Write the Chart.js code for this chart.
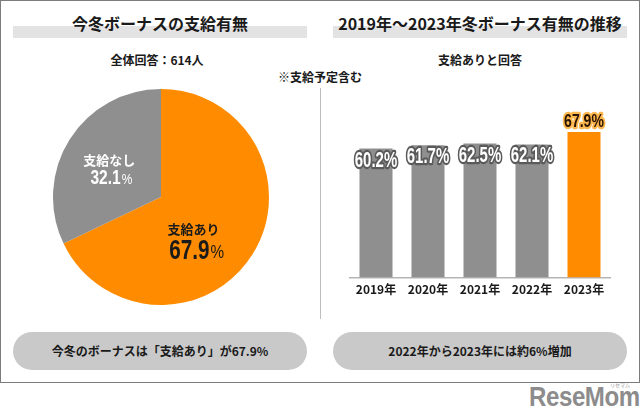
<!DOCTYPE html>
<html lang="ja">
<head>
  <meta charset="UTF-8" />
  <title>冬ボーナスの支給有無</title>
  <script src="https://cdn.jsdelivr.net/npm/chart.js"></script>
  <style>
    body { margin: 0; width: 640px; height: 416px; background: #fff; position: relative; overflow: hidden;
           font-family: "Noto Sans CJK JP", "Noto Sans", sans-serif; color: #1a1a1a; }
    .frame { position: absolute; left: 0; top: 0; width: 640px; height: 383px; box-sizing: border-box; border: 1px solid #7c7c7c; }
    .bar-title { position: absolute; top: 26px; height: 12px; background: #e3e3e3; }
    .title { position: absolute; top: 13px; font-size: 16px; font-weight: bold; text-align: center; line-height: 20px; }
    .sub { position: absolute; font-size: 12px; font-weight: bold; text-align: center; line-height: 16px; }
    .pill { position: absolute; top: 332px; height: 38px; width: 294px; border-radius: 19px; background: #c9c9c9;
            font-size: 12px; font-weight: bold; text-align: center; line-height: 38px; }
    .divider { position: absolute; left: 320px; top: 88px; width: 1px; height: 231px; background: #bdbdbd; }
    canvas { position: absolute; }
    .logo { position: absolute; left: 529px; top: 381px; font-family: "Liberation Sans Narrow", "Liberation Sans", sans-serif;
            font-weight: bold; font-size: 28px; color: #8c8c8c; letter-spacing: -0.5px; transform: scaleX(0.86); transform-origin: left top; }
    .logo-kana { position: absolute; left: 610px; top: 381px; font-size: 5px; color: #999; }
  </style>
</head>
<body>

  <div class="frame"></div>

  <!-- 見出し -->
  <div class="bar-title" style="left:13px; width:294px;"></div>
  <div class="bar-title" style="left:333px; width:294px;"></div>
  <div class="title" style="left:13px; width:294px;">今冬ボーナスの支給有無</div>
  <div class="title" style="left:333px; width:294px;">2019年～2023年冬ボーナス有無の推移</div>

  <div class="sub" style="left:60px; width:194px; top:52px;">全体回答：614人</div>
  <div class="sub" style="left:380px; width:200px; top:52px;">支給ありと回答</div>
  <div class="sub" style="left:220px; width:200px; top:69px;">※支給予定含む</div>

  <div class="divider"></div>

  <canvas id="pieChart" width="216" height="216" style="left:53px; top:89px;"></canvas>
  <canvas id="barChart" width="290" height="210" style="left:340px; top:96px;"></canvas>

  <div class="pill" style="left:13px;">今冬のボーナスは「支給あり」が67.9%</div>
  <div class="pill" style="left:333px;">2022年から2023年には約6%増加</div>

  <div class="logo-kana">リセマム</div>
  <div class="logo">ReseMom</div>

  <script>
    // data
    const pieLabels = ["支給あり", "支給なし"];
    const pieValues = [67.9, 32.1];
    const pieColors = ["#ff8c00", "#8f8f8f"];

    const years = ["2019年", "2020年", "2021年", "2022年", "2023年"];
    const yesRates = [60.2, 61.7, 62.5, 62.1, 67.9];
    const barColors = ["#8f8f8f", "#8f8f8f", "#8f8f8f", "#8f8f8f", "#ff8c00"];

    const condFont = '"Liberation Sans Narrow", "Liberation Sans", sans-serif';

    // draw narrow text (scaled horizontally)
    function condText(ctx, text, x, y, size, sx, fill, stroke, lw, align) {
      ctx.save();
      ctx.translate(x, y);
      ctx.scale(sx, 1);
      ctx.font = "bold " + size + "px " + condFont;
      ctx.textAlign = align || "center";
      ctx.textBaseline = "middle";
      ctx.lineJoin = "round";
      if (stroke) {
        ctx.strokeStyle = stroke;
        ctx.lineWidth = lw / sx;
        ctx.strokeText(text, 0, 0);
      }
      ctx.fillStyle = fill;
      ctx.fillText(text, 0, 0);
      ctx.restore();
    }

    // number + smaller "%" sign
    function pctText(ctx, value, x, y, size, pctSize, color) {
      const num = value.toFixed(1);
      ctx.save();
      ctx.font = "bold " + size + "px " + condFont;
      const wNum = ctx.measureText(num).width * 0.74;
      ctx.font = pctSize + "px " + condFont;
      const wPct = ctx.measureText("%").width * 0.85;
      ctx.restore();
      const left = x - (wNum + wPct + 1) / 2;
      condText(ctx, num, left, y, size, 0.74, color, null, 0, "left");
      ctx.save();
      ctx.translate(left + wNum + 1, y + size * 0.08);
      ctx.scale(0.85, 1);
      ctx.font = pctSize + "px " + condFont;
      ctx.textAlign = "left";
      ctx.textBaseline = "middle";
      ctx.fillStyle = color;
      ctx.fillText("%", 0, 0);
      ctx.restore();
    }

    // pie labels
    const pieLabelPlugin = {
      id: "pieLabels",
      afterDatasetsDraw(chart) {
        const ctx = chart.ctx;
        const arc = chart.getDatasetMeta(0).data[0];
        const cx = arc.x, cy = arc.y, r = arc.outerRadius;
        ctx.save();
        ctx.font = "bold 13px 'Noto Sans CJK JP'";
        ctx.textAlign = "center";
        ctx.textBaseline = "middle";
        ctx.fillStyle = "#1a1a1a";
        ctx.fillText(pieLabels[0], cx + r * 0.30, cy + r * 0.30);
        ctx.fillStyle = "#ffffff";
        ctx.fillText(pieLabels[1], cx - r * 0.48, cy - r * 0.34);
        ctx.restore();
        pctText(ctx, pieValues[0], cx + r * 0.33, cy + r * 0.50, 28, 18, "#1a1a1a");
        pctText(ctx, pieValues[1], cx - r * 0.46, cy - r * 0.175, 21, 14, "#ffffff");
      }
    };

    new Chart(document.getElementById("pieChart"), {
      type: "pie",
      data: {
        labels: pieLabels,
        datasets: [{ data: pieValues, backgroundColor: pieColors, borderWidth: 0 }]
      },
      options: {
        responsive: false,
        animation: false,
        layout: { padding: 0 },
        plugins: { legend: { display: false }, tooltip: { enabled: false } }
      },
      plugins: [pieLabelPlugin]
    });

    // bar value labels
    const barLabelPlugin = {
      id: "barLabels",
      afterDatasetsDraw(chart) {
        const ctx = chart.ctx;
        chart.getDatasetMeta(0).data.forEach((bar, i) => {
          const txt = yesRates[i].toFixed(1) + "%";
          if (i === yesRates.length - 1) {
            condText(ctx, txt, bar.x, bar.y - 10, 19, 0.74, "#2b1400", "#ffb84d", 3.5);
          } else {
            condText(ctx, txt, bar.x, bar.y + 12, 22, 0.68, "#ffffff", "#5a5a5a", 3);
          }
        });
      }
    };

    new Chart(document.getElementById("barChart"), {
      type: "bar",
      data: {
        labels: years,
        datasets: [{ data: yesRates, backgroundColor: barColors, barPercentage: 0.635, categoryPercentage: 1 }]
      },
      options: {
        responsive: false,
        animation: false,
        layout: { padding: { left: 10, right: 20, top: 10, bottom: 4 } },
        plugins: { legend: { display: false }, tooltip: { enabled: false } },
        scales: {
          y: { display: false, min: 0, max: 80 },
          x: {
            grid: { display: false, drawTicks: false },
            border: { display: true, color: "#b5b5b5", width: 1.5 },
            ticks: { color: "#1a1a1a", padding: 5, font: { family: "'Noto Sans CJK JP'", weight: "bold", size: 12 } }
          }
        }
      },
      plugins: [barLabelPlugin]
    });
  </script>

</body>
</html>
